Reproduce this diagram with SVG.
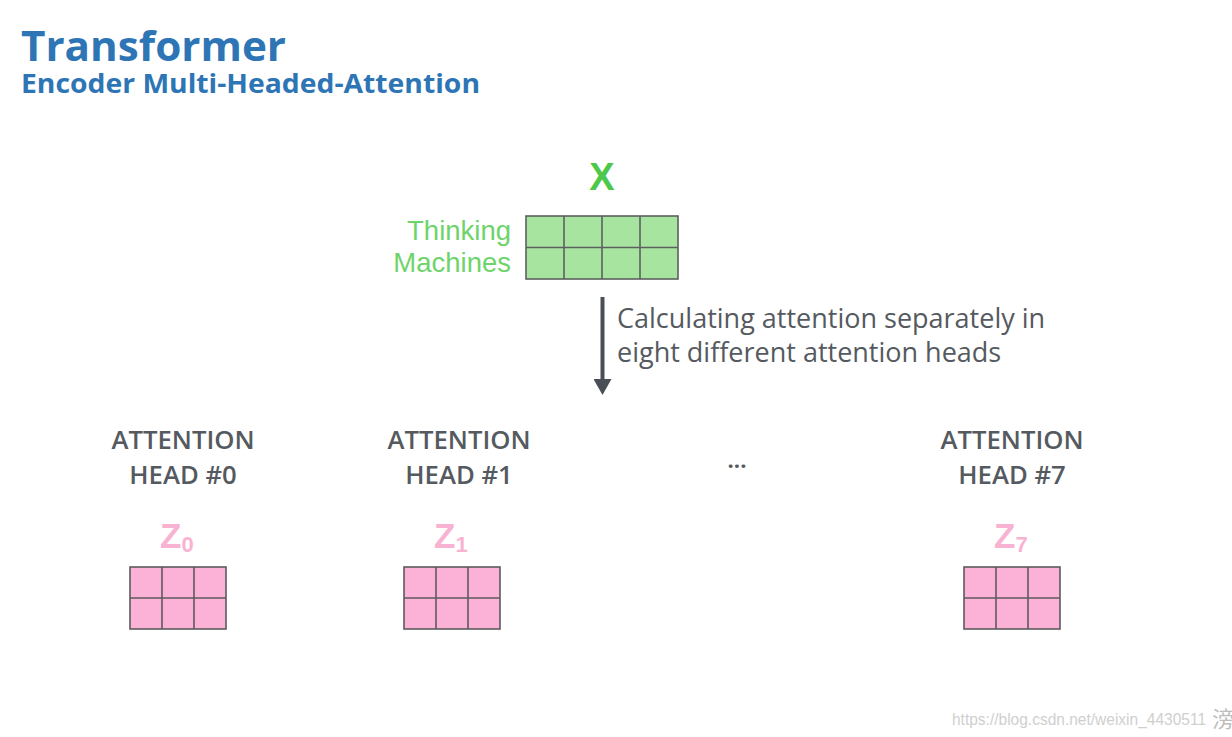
<svg xmlns="http://www.w3.org/2000/svg" width="1232" height="737" viewBox="0 0 1232 737">
  <defs>
    <style>
      .title { font-family: "Open Sans", "Liberation Sans", sans-serif; font-weight: 700; fill: #2E75B6; }
      .green { font-family: "Liberation Sans", "Open Sans", sans-serif; fill: #6ed46a; font-size: 27.5px; }
      .body { font-family: "Open Sans", "Liberation Sans", sans-serif; fill: #555a60; font-size: 27px; }
      .head { font-family: "Open Sans", "Liberation Sans", sans-serif; fill: #555a60; font-size: 25.7px; font-weight: 600; text-anchor: middle; }
      .z { font-family: "Liberation Sans", "Open Sans", sans-serif; fill: #f8b3d3; font-weight: 700; }
      .gcell { fill: #a7e49f; stroke: #5d6060; stroke-width: 1.6; }
      .pcell { fill: #fbb2d6; stroke: #5d5a5e; stroke-width: 1.6; }
      .wm { font-family: "Liberation Sans", "Noto Sans CJK SC", sans-serif; fill: #cfcfcf; font-size: 16px; }
    </style>
    <marker id="arrowhead" markerWidth="4" markerHeight="4.5" refX="0" refY="2.25" orient="auto" markerUnits="strokeWidth">
      <path d="M0,0 L4,2.25 L0,4.5 Z" fill="#4a4f57"/>
    </marker>
  </defs>
  <rect width="1232" height="737" fill="#ffffff"/>

  <g id="title">
    <text class="title" x="21" y="61" font-size="42" textLength="265" lengthAdjust="spacingAndGlyphs">Transformer</text>
    <text class="title" x="21" y="93" font-size="27" textLength="459" lengthAdjust="spacingAndGlyphs">Encoder Multi-Headed-Attention</text>
  </g>

  <g id="input-x">
    <text x="602" y="190" font-family="Liberation Sans, sans-serif" font-weight="700" font-size="38" fill="#4cc94a" text-anchor="middle">X</text>
    <text class="green" x="511" y="240" text-anchor="end">Thinking</text>
    <text class="green" x="511" y="272" text-anchor="end">Machines</text>
    <rect class="gcell" x="526" y="216" width="152" height="63"/>
    <path d="M564,216 V279 M602,216 V279 M640,216 V279 M526,247.5 H678" fill="none" stroke="#5d6060" stroke-width="1.6"/>
  </g>

  <g id="connectors">
    <line x1="602.5" y1="297" x2="602.5" y2="379" stroke="#4a4f57" stroke-width="4" marker-end="url(#arrowhead)"/>
  </g>

  <g id="arrow-label">
    <text class="body" x="617" y="328">Calculating attention separately in</text>
    <text class="body" x="617" y="362">eight different attention heads</text>
  </g>

  <g id="head-0">
    <text class="head" x="183" y="449">ATTENTION</text>
    <text class="head" x="183" y="484">HEAD #0</text>
    <text class="z" x="160" y="548" font-size="35">Z<tspan font-size="22" dy="4">0</tspan></text>
    <rect class="pcell" x="130" y="567" width="96" height="62"/>
    <path d="M162,567 V629 M194,567 V629 M130,598 H226" fill="none" stroke="#5d5a5e" stroke-width="1.6"/>
  </g>

  <g id="head-1">
    <text class="head" x="459" y="449">ATTENTION</text>
    <text class="head" x="459" y="484">HEAD #1</text>
    <text class="z" x="434" y="548" font-size="35">Z<tspan font-size="22" dy="4">1</tspan></text>
    <rect class="pcell" x="404" y="567" width="96" height="62"/>
    <path d="M436,567 V629 M468,567 V629 M404,598 H500" fill="none" stroke="#5d5a5e" stroke-width="1.6"/>
  </g>

  <g id="ellipsis">
    <text x="737" y="468" font-family="Open Sans, Liberation Sans, sans-serif" font-size="22" font-weight="700" fill="#555a60" text-anchor="middle">...</text>
  </g>

  <g id="head-7">
    <text class="head" x="1012" y="449">ATTENTION</text>
    <text class="head" x="1012" y="484">HEAD #7</text>
    <text class="z" x="994" y="548" font-size="35">Z<tspan font-size="22" dy="4">7</tspan></text>
    <rect class="pcell" x="964" y="567" width="96" height="62"/>
    <path d="M996,567 V629 M1028,567 V629 M964,598 H1060" fill="none" stroke="#5d5a5e" stroke-width="1.6"/>
  </g>

  <g id="watermark">
    <text class="wm" x="952" y="725" textLength="254" lengthAdjust="spacingAndGlyphs">https://blog.csdn.net/weixin_4430511</text>
    <text x="1212" y="727" font-family="Noto Sans CJK SC, sans-serif" font-size="22" fill="#bdbdbd">滂</text>
  </g>
</svg>
